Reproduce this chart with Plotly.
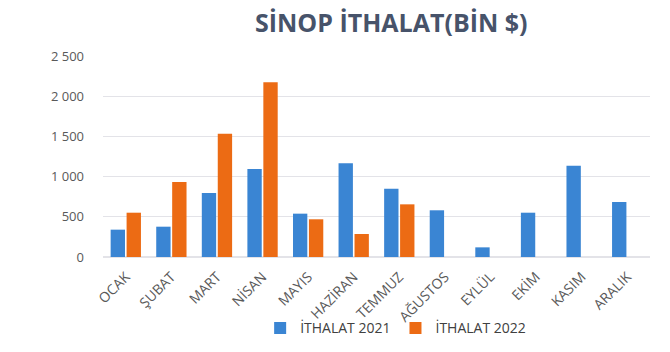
import plotly.graph_objects as go

months = ["OCAK", "ŞUBAT", "MART", "NİSAN", "MAYIS", "HAZİRAN", "TEMMUZ",
          "AĞUSTOS", "EYLÜL", "EKİM", "KASIM", "ARALIK"]
imports_2021 = [340, 377, 796, 1094, 539, 1165, 850, 581, 120, 551, 1136, 684]
imports_2022 = [551, 933, 1534, 2173, 469, 286, 655, None, None, None, None, None]
series_names = ["İTHALAT 2021", "İTHALAT 2022"]
y_ticks = [0, 500, 1000, 1500, 2000, 2500]

fig = go.Figure()
fig.add_trace(go.Bar(x=months, y=imports_2021, name=series_names[0],
                     marker=dict(color="#3a85d3", line=dict(width=0))))
fig.add_trace(go.Bar(x=months, y=imports_2022, name=series_names[1],
                     marker=dict(color="#ec6b14", line=dict(width=0))))

gray = "#595959"
fig.update_layout(
    width=670, height=352,
    margin=dict(l=103, r=20, t=56, b=95, autoexpand=False),
    paper_bgcolor="white", plot_bgcolor="white",
    separators=", ",
    barmode="group", bargap=0.3, bargroupgap=0.1,
    font=dict(family="Open Sans, Liberation Sans, sans-serif", color=gray, size=12),
    title=dict(text="<b>SİNOP İTHALAT(BİN $)</b>", x=0.584, xref="container",
               y=0.935, yref="container", xanchor="center", yanchor="middle",
               font=dict(size=25, color="#47536a")),
    legend=dict(orientation="h", x=0.535, xanchor="center", y=-0.355, yanchor="middle",
                bgcolor="rgba(0,0,0,0)",
                font=dict(size=14, color="#404040"), itemwidth=30, traceorder="normal"),
    xaxis=dict(tickangle=-45, showgrid=False, showline=False, ticks="",
               automargin=False, ticklabelstandoff=8,
               tickfont=dict(size=14, color=gray)),
    yaxis=dict(range=[0, 2500], tickvals=y_ticks, tickformat=",d", automargin=False,
               showgrid=True, gridcolor="#e3e3e8", gridwidth=1, zeroline=True,
               zerolinecolor="#e3e3e8", showline=False, ticks="",
               ticklabelstandoff=18, tickfont=dict(size=13, color=gray)),
)

fig.write_html("out.html")
